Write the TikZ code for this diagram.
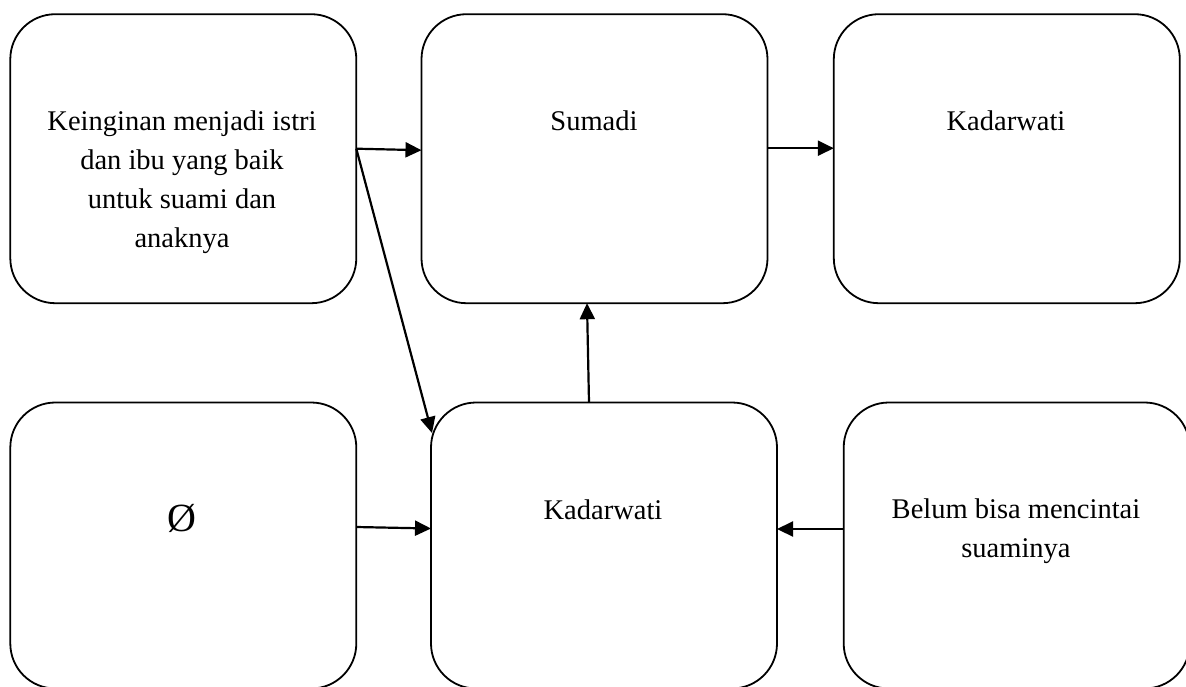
\documentclass[tikz,border=0pt]{standalone}
\usepackage{fontspec}
\setmainfont{Liberation Serif}
\usetikzlibrary{arrows.meta,calc}
\begin{document}
\begin{tikzpicture}[x=1pt,y=-1pt,
  card/.style={draw, line width=1.8pt, rounded corners=45pt,
    minimum width=346pt, minimum height=289pt, inner sep=0pt, outer sep=0pt},
  lowcard/.style={card, minimum height=286pt},
  lbl/.style={font=\fontsize{28.5}{38.8}\selectfont, align=center,
    anchor=base, inner sep=0pt},
  link/.style={line width=2.2pt, -{Triangle[length=16pt,width=15pt]}}]
\useasboundingbox (0,0) rectangle (1186,686);
\clip (0,0) rectangle (1186,686);

% upper row
\node[card] (tl) at (183.3,158.7) {};
\node[card] (sm) at (594.5,158.7) {};
\node[card] (kr) at (1006.8,158.7) {};
% lower row (runs past the page edge)
\node[lowcard] (bl) at (183.3,545.5) {};
\node[lowcard] (bk) at (604,545.5) {};
\node[lowcard] (br) at (1016.7,545.5) {};

% texts (base anchor sits on the last line of a multi-line text)
\node[lbl] (t1) at (182,247) {Keinginan menjadi istri\\dan ibu yang baik\\untuk suami dan\\anaknya};
\node[lbl] (t2) at (594,130.5) {Sumadi};
\node[lbl] (t3) at (1006,130.5) {Kadarwati};
\node[lbl, font=\fontsize{40}{44}\selectfont] (t4) at (181.5,531) {Ø};
\node[lbl] (t5) at (603,519) {Kadarwati};
\node[lbl] (t6) at (1016,557.5) {Belum bisa mencintai\\suaminya};

% connectors
\coordinate (src) at ($(tl.east)+(0,-10)$);
\draw[link] (src) -- ($(sm.west)+(0,-8.5)$);
\draw[link] (src) -- ($(bk.north west)+(1,30.5)$);
\draw[link] ($(sm.east)+(0,-10.5)$) -- ($(kr.west)+(0,-10.5)$);
\draw[link] ($(bk.north)+(-15,0)$) -- ($(sm.south)+(-7.5,0)$);
\draw[link] ($(bl.east)+(0,-18.5)$) -- ($(bk.west)+(0,-17)$);
\draw[link] ($(br.west)+(0,-16.5)$) -- ($(bk.east)+(0,-16.5)$);
\end{tikzpicture}
\end{document}
